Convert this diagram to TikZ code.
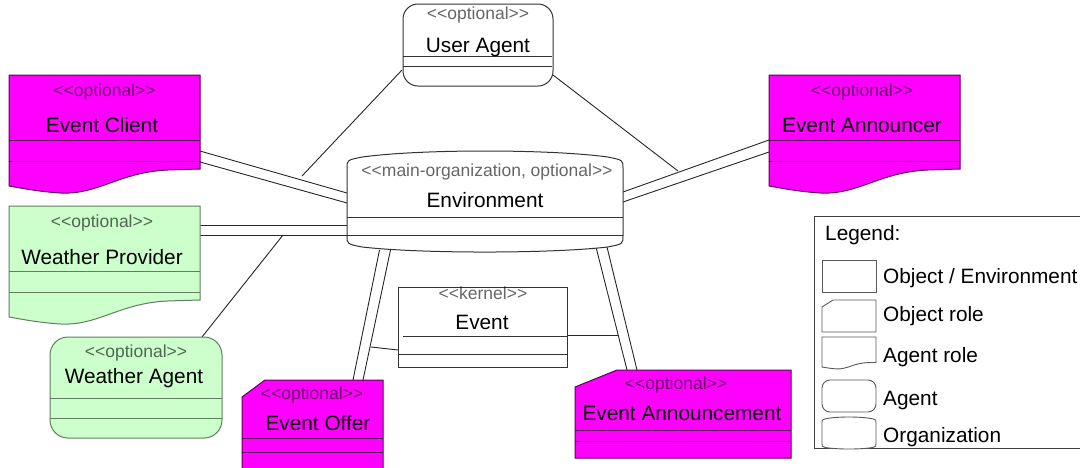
\documentclass[tikz,border=0pt]{standalone}
\usepackage{fontspec}
\setmainfont{Liberation Sans}[Ligatures=TeXOff]
\usetikzlibrary{calc}

\definecolor{rolemag}{HTML}{FF00FF}
\definecolor{magline}{HTML}{5A005A}
\definecolor{agentgreen}{HTML}{CCFFCC}
\definecolor{greenline}{HTML}{5F7F5F}
\definecolor{plainline}{HTML}{333333}

\tikzset{
  stereo/.style={font=\fontsize{17.5}{20}\selectfont, text=black, text opacity=0.6, inner sep=0},
  title/.style={font=\fontsize{20.8}{24}\selectfont, inner sep=0},
  legtext/.style={font=\fontsize{20.8}{24}\selectfont, inner sep=0, anchor=west},
  area/.style={anchor=north west, inner sep=0, outer sep=0, draw=none},
  link/.style={draw=black!85, line width=0.9pt},
  magbox/.style={fill=rolemag, draw=magline, line width=1pt},
  greenbox/.style={fill=agentgreen, draw=greenline, line width=1pt},
  whitebox/.style={fill=white, draw=plainline, line width=1pt},
  iconbox/.style={fill=white, draw=black!65, line width=0.9pt},
  legframe/.style={draw=black!75, line width=1pt},
}

% agent role: box with a wavy lower edge  (x, y, width, height, style)
\newcommand\agentroleshape[5]{%
  \path[#5] ({#1},{#2}) -- ++({#3},0) -- ++(0,{0.847*#4})
    -- ({#1+0.84*#3},{#2+0.855*#4})
    .. controls ({#1+0.58*#3},{#2+0.87*#4}) and ({#1+0.47*#3},{#2+1.08*#4}) .. ({#1+0.27*#3},{#2+1.063*#4})
    .. controls ({#1+0.15*#3},{#2+1.05*#4}) and ({#1+0.07*#3},{#2+1.02*#4}) .. ({#1},{#2+#4}) -- cycle;}
% object role: box with a cut upper-left corner  (x, y, width, height, cut x, cut y, style)
\newcommand\objroleshape[7]{%
  \path[#7] ({#1},{#2+#6}) -- ({#1+#5},{#2}) -- ({#1+#3},{#2}) -- ({#1+#3},{#2+#4}) -- ({#1},{#2+#4}) -- cycle;}
% organization: barrel shape  (x, y, width, height, style)
\newcommand\orgshape[5]{%
  \path[#5] ({#1},{#2+0.17*#4})
    .. controls ({#1},{#2+0.09*#4}) .. ({#1+0.054*#3},{#2+0.06*#4})
    .. controls ({#1+0.264*#3},{#2-0.02*#4}) and ({#1+0.736*#3},{#2-0.02*#4}) .. ({#1+0.946*#3},{#2+0.06*#4})
    .. controls ({#1+#3},{#2+0.09*#4}) .. ({#1+#3},{#2+0.17*#4})
    -- ({#1+#3},{#2+0.84*#4})
    .. controls ({#1+#3},{#2+0.92*#4}) .. ({#1+0.946*#3},{#2+0.95*#4})
    .. controls ({#1+0.736*#3},{#2+1.017*#4}) and ({#1+0.264*#3},{#2+1.017*#4}) .. ({#1+0.054*#3},{#2+0.95*#4})
    .. controls ({#1},{#2+0.92*#4}) .. ({#1},{#2+0.84*#4}) -- cycle;}

\begin{document}
\begin{tikzpicture}[x=1pt,y=-1pt]
\clip (0,0) rectangle (1080,467);
\fill[white] (0,0) rectangle (1080,467);

% ---------- element areas ----------
\node[area, minimum width=191, minimum height=111] (ec)  at (9,75) {};
\node[area, minimum width=191, minimum height=111] (ean) at (769,75) {};
\node[area, minimum width=191, minimum height=111] (wp)  at (9,206) {};
\node[area, minimum width=150, minimum height=82]  (ua)  at (403,4) {};
\node[area, minimum width=172, minimum height=101] (wa)  at (50,337) {};
\node[area, minimum width=276, minimum height=101] (env) at (347,151) {};
\node[area, minimum width=169, minimum height=80]  (ev)  at (398,287) {};
\node[area, minimum width=141, minimum height=95]  (eo)  at (242,380) {};
\node[area, minimum width=216, minimum height=88]  (eam) at (575,370) {};

% ---------- connectors ----------
\coordinate (uaL) at (402,70);   \coordinate (uaLend) at (302,176);
\coordinate (uaR) at (553,75);   \coordinate (uaRend) at (678,171);
\coordinate (ecA) at (200,151);  \coordinate (envA) at (347,193);
\coordinate (ecB) at (200,162);  \coordinate (envB) at (347,203);
\coordinate (eanA) at (769,140); \coordinate (envC) at (623,192);
\coordinate (eanB) at (769,152); \coordinate (envD) at (623,202);
\coordinate (wpA) at (200,225);  \coordinate (envE) at (347,225);
\coordinate (wpB) at (200,235);  \coordinate (envF) at (347,235);
\coordinate (waT) at (202,337);  \coordinate (waEnd) at (283,235);
\coordinate (envG) at (379.5,250); \coordinate (eoA) at (353,380);
\coordinate (envH) at (390.5,250); \coordinate (eoB) at (363,380);
\coordinate (envI) at (596,247); \coordinate (eamA) at (627,370);
\coordinate (envJ) at (607,247); \coordinate (eamB) at (637,370);
\coordinate (evLfoot) at (371,347); \coordinate (evL) at (398,350);
\coordinate (evR) at (567,335);  \coordinate (evRfoot) at (618,335);

\draw[link] (uaL) -- (uaLend);
\draw[link] (uaR) -- (uaRend);
\draw[link] (ecA) -- (envA);  \draw[link] (ecB) -- (envB);
\draw[link] (eanA) -- (envC); \draw[link] (eanB) -- (envD);
\draw[link] (wpA) -- (envE);  \draw[link] (wpB) -- (envF);
\draw[link] (waT) -- (waEnd);
\draw[link] (envG) -- (eoA);  \draw[link] (envH) -- (eoB);
\draw[link] (envI) -- (eamA); \draw[link] (envJ) -- (eamB);
\draw[link] (evLfoot) -- (evL);
\draw[link] (evR) -- (evRfoot);

% ---------- shapes ----------
% Event Client
\agentroleshape{9}{75}{191}{111}{magbox}
\draw[magline, line width=1pt] (9,140) -- (200,140) (9,161) -- (200,161);
\node[stereo] (ec-st) at (104.5,92) {<<optional>>};
\node[title]  (ec-nm) at (102,125) {Event Client};

% Event Announcer
\agentroleshape{769}{75}{191}{111}{magbox}
\draw[magline, line width=1pt] (769,140) -- (960,140) (769,161) -- (960,161);
\node[stereo] (ean-st) at (862,92) {<<optional>>};
\node[title]  (ean-nm) at (862,125) {Event Announcer};

% Weather Provider
\agentroleshape{9}{206}{191}{111}{greenbox}
\draw[greenline, line width=1pt] (9,271) -- (200,271) (9,292) -- (200,292);
\node[stereo] (wp-st) at (102,223) {<<optional>>};
\node[title]  (wp-nm) at (102,257) {Weather Provider};

% User Agent
\path[whitebox, rounded corners=15] (403,4) rectangle (553,86);
\draw[plainline, line width=1pt] (403,56) -- (552,56) (403,66) -- (552,66);
\node[stereo] (ua-st) at (478,15) {<<optional>>};
\node[title]  (ua-nm) at (478,47) {User Agent};

% Weather Agent
\path[greenbox, rounded corners=18] (50,337) rectangle (222,438);
\draw[greenline, line width=1pt] (50,398) -- (222,398) (50,418) -- (222,418);
\node[stereo] (wa-st) at (136,353) {<<optional>>};
\node[title]  (wa-nm) at (134,378) {Weather Agent};

% Environment
\orgshape{347}{151}{276}{101}{whitebox}
\draw[plainline, line width=1pt] (347,217) -- (623,217) (347,235) -- (623,235);
\node[stereo] (env-st) at (487,172) {<<main-organization, optional>>};
\node[title]  (env-nm) at (485,200) {Environment};

% Event
\path[whitebox] (398,287) rectangle (567,367);
\draw[plainline, line width=1pt] (403,336) -- (567,336) (398,354) -- (567,354);
\node[stereo] (ev-st) at (483,293) {<<kernel>>};
\node[title]  (ev-nm) at (482,322) {Event};

% Event Offer
\objroleshape{242}{380}{141}{95}{23}{17}{magbox}
\draw[magline, line width=1pt] (242,438) -- (383,438) (242,452) -- (383,452);
\node[stereo] (eo-st) at (312,395) {<<optional>>};
\node[title]  (eo-nm) at (318,423) {Event Offer};

% Event Announcement
\objroleshape{575}{370}{216}{88}{42}{17}{magbox}
\draw[magline, line width=1pt] (575,430) -- (791,430) (575,441) -- (791,441);
\node[stereo] (eam-st) at (676,385) {<<optional>>};
\node[title]  (eam-nm) at (682,413) {Event Announcement};

% ---------- legend ----------
\node[area, minimum width=276, minimum height=232] (leg) at (814,216) {};
\draw[legframe] (814,216) rectangle (1090,448);
\node[legtext] (leg-h) at (825,235) {Legend:};
\path[iconbox] (822,260) rectangle (876,292);
\node[legtext] (leg-1) at (883,278) {Object / Environment};
\objroleshape{822}{300}{54}{32}{11}{7}{iconbox}
\node[legtext] (leg-2) at (883,316) {Object role};
\agentroleshape{822}{337}{54}{30}{iconbox}
\node[legtext] (leg-3) at (883,357) {Agent role};
\path[iconbox, rounded corners=8] (822,380) rectangle (876,412);
\node[legtext] (leg-4) at (883,400) {Agent};
\orgshape{822}{417}{54}{32}{iconbox}
\node[legtext] (leg-5) at (883,437) {Organization};
\end{tikzpicture}
\end{document}
